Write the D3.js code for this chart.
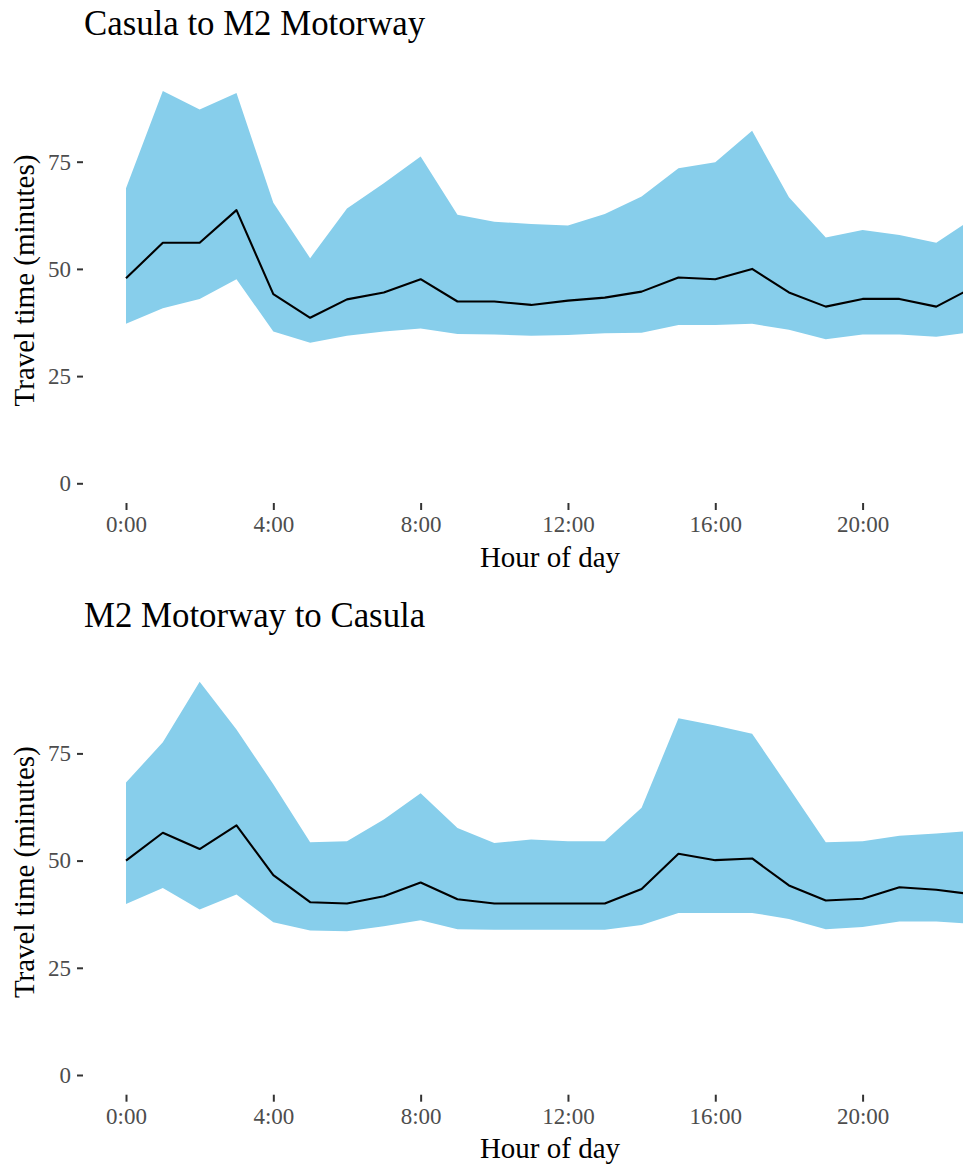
<!DOCTYPE html>
<html>
<head>
<meta charset="utf-8">
<script src="https://cdn.jsdelivr.net/npm/d3@7"></script>
<style>
  body { margin: 0; background: #fff; }
  svg { display: block; font-family: "Liberation Serif", "Times New Roman", serif; }
</style>
</head>
<body>
<svg id="chart" width="963" height="1165"></svg>
<script>
// hours of the day
const hours = d3.range(0, 24);
const hourTicks = [0, 4, 8, 12, 16, 20];
const minuteTicks = [0, 25, 50, 75];

// Casula to M2 Motorway
const upper1 = [68.8, 91.5, 87.2, 91.0, 65.4, 52.5, 64.1, 70.0, 76.2, 62.6, 61.0, 60.5,
                60.1, 62.8, 66.9, 73.5, 74.9, 82.2, 66.7, 57.3, 59.1, 57.9, 56.1, 61.8];
const median1 = [47.8, 56.1, 56.1, 63.7, 44.1, 38.6, 42.9, 44.5, 47.6, 42.4, 42.4, 41.6,
                 42.6, 43.3, 44.7, 48.0, 47.6, 50.0, 44.5, 41.2, 43.0, 43.0, 41.2, 45.7];
const lower1 = [37.2, 40.8, 43.0, 47.6, 35.4, 32.8, 34.4, 35.4, 36.1, 34.8, 34.7, 34.4,
                34.6, 35.0, 35.1, 36.9, 36.9, 37.2, 35.8, 33.6, 34.7, 34.7, 34.2, 35.3];

// M2 Motorway to Casula
const upper2 = [68.2, 77.6, 91.7, 80.6, 67.8, 54.3, 54.5, 59.6, 65.7, 57.6, 54.1, 54.9,
                54.5, 54.5, 62.3, 83.2, 81.5, 79.6, 67.0, 54.3, 54.5, 55.8, 56.3, 57.0];
const median2 = [50.0, 56.5, 52.7, 58.2, 46.6, 40.3, 40.0, 41.7, 44.9, 41.0, 40.0, 40.0,
                 40.0, 40.0, 43.4, 51.6, 50.1, 50.5, 44.2, 40.7, 41.1, 43.8, 43.2, 42.1];
const lower2 = [39.9, 43.6, 38.6, 42.1, 35.6, 33.7, 33.5, 34.7, 36.1, 34.0, 33.9, 33.9,
                33.9, 33.9, 35.0, 37.8, 37.8, 37.8, 36.4, 34.0, 34.5, 35.8, 35.8, 35.2];

const svg = d3.select("#chart");

const x = d3.scaleLinear().domain([0, 23]).range([126, 126 + 23 * 36.83]);
const y = d3.scaleLinear().domain([0, 75]).range([483.3, 161.7]);

function drawPanel(offsetY, title, upper, median, lower) {
    const rows = hours.map((h, i) => ({ h: h, hi: upper[i], mid: median[i], lo: lower[i] }));
    const g = svg.append("g").attr("transform", `translate(0,${offsetY})`);

    g.append("path")
        .datum(rows)
        .attr("fill", "#87CEEB")
        .attr("d", d3.area().x(d => x(d.h)).y0(d => y(d.lo)).y1(d => y(d.hi)));

    g.append("path")
        .datum(rows)
        .attr("fill", "none")
        .attr("stroke", "#000")
        .attr("stroke-width", 2.1)
        .attr("stroke-linejoin", "round")
        .attr("d", d3.line().x(d => x(d.h)).y(d => y(d.mid)));

    // y axis
    const ya = g.append("g")
        .attr("transform", "translate(83,0)")
        .call(d3.axisLeft(y).tickValues(minuteTicks).tickSize(6).tickPadding(6));
    ya.select(".domain").remove();
    ya.selectAll("line").attr("stroke", "#333").attr("stroke-width", 2);
    ya.selectAll("text").attr("fill", "#4D4D4D").style("font-size", "23px")
        .style("font-family", "Liberation Serif");

    // x axis
    const xa = g.append("g")
        .attr("transform", "translate(0,503)")
        .call(d3.axisBottom(x).tickValues(hourTicks).tickFormat(d => d + ":00")
            .tickSize(7).tickPadding(6));
    xa.select(".domain").remove();
    xa.selectAll("line").attr("stroke", "#333").attr("stroke-width", 2);
    xa.selectAll("text").attr("fill", "#4D4D4D").style("font-size", "23px")
        .style("font-family", "Liberation Serif");

    g.append("text")
        .attr("x", 550).attr("y", 566.5)
        .attr("text-anchor", "middle")
        .style("font-size", "29px")
        .text("Hour of day");

    g.append("text")
        .attr("transform", "translate(34,280.5) rotate(-90)")
        .attr("text-anchor", "middle")
        .style("font-size", "29px")
        .text("Travel time (minutes)");

    g.append("text")
        .attr("x", 84).attr("y", 35)
        .style("font-size", "34.8px")
        .text(title);
}

drawPanel(0, "Casula to M2 Motorway", upper1, median1, lower1);
drawPanel(591.7, "M2 Motorway to Casula", upper2, median2, lower2);
</script>
</body>
</html>
